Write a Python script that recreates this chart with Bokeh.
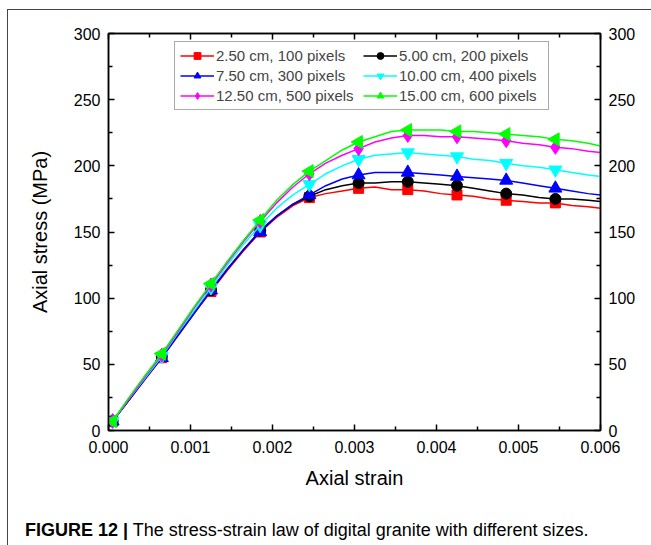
import math
from bokeh.plotting import figure
from bokeh.layouts import column
from bokeh.models import (Range1d, LinearAxis, FixedTicker, Legend, LegendItem,
                          Div, CustomJSTickFormatter, PrintfTickFormatter)
from bokeh.embed import file_html
from bokeh.resources import INLINE

# ---------------- data ----------------
strain = [0.00005, 0.00025, 0.00045, 0.00065, 0.00085, 0.00105, 0.00125, 0.00145,
          0.00165, 0.00185, 0.00205, 0.00225, 0.00245, 0.00265, 0.00285, 0.00305,
          0.00325, 0.00345, 0.00365, 0.00385, 0.00405, 0.00425, 0.00445, 0.00465,
          0.00485, 0.00505, 0.00525, 0.00545, 0.00565, 0.00585, 0.006]

stress_100px = [7, 23, 39, 55, 72, 89, 105, 121, 136, 150, 161, 170, 176, 179, 181, 183,
                184, 182, 182, 181, 179, 178, 177, 175, 174, 173, 172, 172, 170, 169, 168]
stress_200px = [7, 23, 40, 56, 73, 90, 106, 122, 137, 151, 162, 171, 177, 182, 185, 187,
                187, 188, 188, 187, 186, 185, 183, 181, 179, 178, 176, 175, 175, 174, 173]
stress_300px = [7, 23, 39, 55, 72, 89, 106, 122, 137, 150, 162, 171, 178, 185, 190, 193,
                195, 195, 195, 194, 193, 192, 191, 190, 189, 187, 185, 183, 181, 179, 178]
stress_400px = [7, 24, 40, 56, 74, 91, 108, 125, 141, 155, 168, 178, 186, 194, 200, 205,
                208, 209, 210, 209, 208, 207, 205, 204, 202, 200, 199, 197, 195, 193, 192]
stress_500px = [7, 24, 41, 57, 75, 93, 110, 127, 143, 158, 172, 184, 194, 202, 208, 213,
                218, 221, 223, 223, 222, 222, 221, 220, 219, 217, 216, 214, 213, 211, 210]
stress_600px = [7, 25, 42, 58, 76, 94, 111, 128, 144, 159, 174, 186, 196, 204, 212, 218,
                222, 226, 227, 227, 227, 226, 226, 225, 224, 223, 222, 220, 219, 217, 215]

labels = ["2.50 cm, 100 pixels", "5.00 cm, 200 pixels", "7.50 cm, 300 pixels",
          "10.00 cm, 400 pixels", "12.50 cm, 500 pixels", "15.00 cm, 600 pixels"]
x_ticks = [0.0, 0.001, 0.002, 0.003, 0.004, 0.005, 0.006]
x_minor = [0.0005, 0.0015, 0.0025, 0.0035, 0.0045, 0.0055]
y_ticks = [0, 50, 100, 150, 200, 250, 300]
y_minor = [25, 75, 125, 175, 225, 275]
caption_bold = "FIGURE 12 |"
caption_text = "The stress-strain law of digital granite with different sizes."

all_stress = [stress_100px, stress_200px, stress_300px, stress_400px, stress_500px, stress_600px]
colors = ["#FF0000", "#000000", "#0000FF", "#00FFFF", "#FF00FF", "#00FF00"]
markers = ["square", "circle", "triangle", "inverted_triangle", "diamond", "triangle"]
msizes = [10, 11, 13, 13, 14, 13]
angles = [0, 0, 0, 0, 0, math.pi / 2]

FONT = "Liberation Sans"
W, H = 640, 506

p = figure(width=W, height=H, output_backend="svg", toolbar_location=None,
           x_range=Range1d(0, 0.006), y_range=Range1d(0, 300),
           x_axis_location=None, y_axis_location=None,
           min_border_left=100, min_border_right=W - 592, min_border_top=23,
           min_border_bottom=H - 420)
p.grid.visible = False
p.outline_line_color = "black"
p.outline_line_width = 1.5


def style_axis(ax, ticks, minor, show_labels=True):
    ax.ticker = FixedTicker(ticks=ticks, minor_ticks=minor)
    ax.axis_line_color = "black"
    ax.axis_line_width = 1.5
    ax.major_tick_in = 6
    ax.major_tick_out = 0
    ax.minor_tick_in = 4
    ax.minor_tick_out = 0
    ax.major_tick_line_width = 1.5
    ax.minor_tick_line_width = 1.5
    ax.major_label_text_font = FONT
    ax.major_label_text_font_size = "16px"
    ax.major_label_text_color = "black"
    ax.major_label_standoff = 8
    ax.axis_label_text_font = FONT
    ax.axis_label_text_font_style = "normal"
    ax.axis_label_text_font_size = "20px"
    ax.axis_label_text_color = "black"
    if not show_labels:
        ax.formatter = CustomJSTickFormatter(code="return ''")


bottom = LinearAxis(axis_label="Axial strain", formatter=PrintfTickFormatter(format="%.3f"))
style_axis(bottom, x_ticks, x_minor)
bottom.major_label_standoff = 10
bottom.axis_label_standoff = 11
top = LinearAxis()
style_axis(top, x_ticks, x_minor, show_labels=False)
top.major_label_standoff = 0
left = LinearAxis(axis_label="Axial stress (MPa)")
style_axis(left, y_ticks, y_minor)
left.axis_label_standoff = 20
right = LinearAxis()
style_axis(right, y_ticks, y_minor)
p.add_layout(bottom, "below")
p.add_layout(top, "above")
p.add_layout(left, "left")
p.add_layout(right, "right")

items = []
for lab, ys, c, m, s, a in zip(labels, all_stress, colors, markers, msizes, angles):
    ln = p.line(strain, ys, line_color=c, line_width=1.5)
    mk = p.scatter(strain[0:28:3], ys[0:28:3], marker=m, size=s, angle=a,
                   fill_color=c, line_color=c)
    items.append(LegendItem(label=lab, renderers=[ln, mk]))

# legend fills column by column: left column red/blue/magenta, right column black/cyan/green
legend_order = [0, 2, 4, 1, 3, 5]
legend = Legend(items=[items[i] for i in legend_order], ncols=2, location=(66, 320),
                label_text_font=FONT, label_text_font_size="15px",
                label_height=17, glyph_height=17, glyph_width=34,
                label_standoff=2, label_width=144, spacing=3, padding=5, margin=0,
                border_line_color="#555555", border_line_width=1.2,
                background_fill_color="white", background_fill_alpha=1.0)
p.add_layout(legend, "center")

cap = Div(text=f'<span style="font-weight:bold">{caption_bold}</span> {caption_text}',
          width=W, height=26,
          styles={"font-family": FONT, "font-size": "18px", "color": "black",
                  "line-height": "18px", "padding-left": "12px", "white-space": "nowrap"})

layout = column(p, cap, spacing=0,
                styles={"margin-left": "7px", "margin-top": "9px",
                        "border-top": "1px solid #444444",
                        "border-left": "1px solid #444444"})

open("out.html", "w").write(file_html(layout, INLINE))
